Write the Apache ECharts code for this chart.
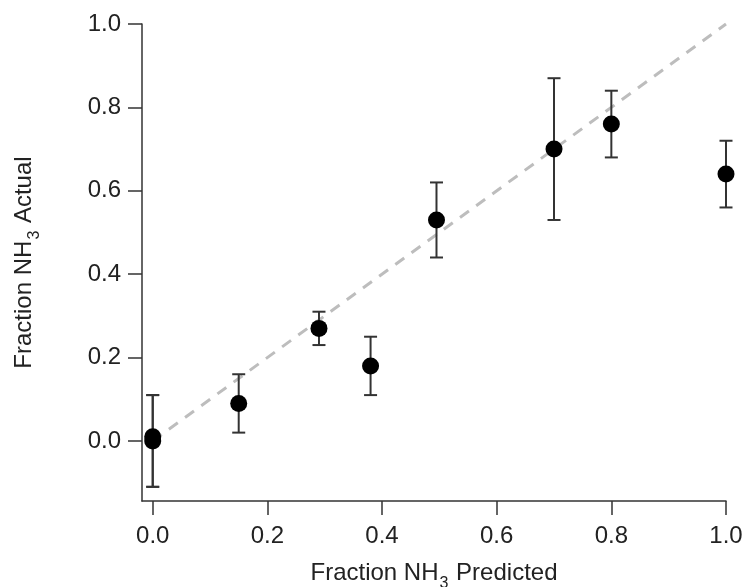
<!DOCTYPE html>
<html>
<head>
<meta charset="utf-8">
<script src="https://cdn.jsdelivr.net/npm/echarts@6/dist/echarts.min.js"></script>
<style>html,body{margin:0;padding:0;background:#fff;overflow:hidden;}#c{width:748px;height:587px;}</style>
</head>
<body>
<div id="c"></div>
<script>
var predicted = [0.0, 0.0, 0.15, 0.29, 0.38, 0.495, 0.70, 0.80, 1.0];
var actual    = [0.01, 0.0, 0.09, 0.27, 0.18, 0.53, 0.70, 0.76, 0.64];
var errLow    = [-0.11, -0.11, 0.02, 0.23, 0.11, 0.44, 0.53, 0.68, 0.56];
var errHigh   = [0.11, 0.11, 0.16, 0.31, 0.25, 0.62, 0.87, 0.84, 0.72];
var identityLine = [[0, 0], [1, 1]];
var xTicks = [0.0, 0.2, 0.4, 0.6, 0.8, 1.0];
var yTicks = [0.0, 0.2, 0.4, 0.6, 0.8, 1.0];

var points = predicted.map(function (x, i) { return [x, actual[i]]; });
var bars = predicted.map(function (x, i) { return [x, errLow[i], errHigh[i]]; });

var chart = echarts.init(document.getElementById('c'), null, {renderer: 'canvas'});
var font = '"Liberation Sans", Arial, sans-serif';
var axisColor = '#333';
var txt = '#222';
var nameRich = {
  n: {fontSize: 24, fontFamily: font, color: txt, verticalAlign: 'bottom', lineHeight: 28},
  s: {fontSize: 16, fontFamily: font, color: txt, verticalAlign: 'bottom', lineHeight: 28, padding: [0, 1, -7, 1]}
};
function fmt(v) { return v.toFixed(1); }

chart.setOption({
  animation: false,
  backgroundColor: '#fff',
  grid: {left: 142, right: 22, top: 24, bottom: 86, containLabel: false, outerBoundsMode: 'none'},
  xAxis: {
    type: 'value', min: -0.0187, max: 1.0,
    axisLine: {show: true, onZero: false, lineStyle: {color: axisColor, width: 1.5}},
    axisTick: {show: true, inside: false, length: 14, lineStyle: {color: axisColor, width: 1.5},
      customValues: xTicks},
    axisLabel: {fontSize: 24, fontFamily: font, color: txt, margin: 23, formatter: fmt,
      customValues: xTicks},
    splitLine: {show: false},
    name: '{n|Fraction NH}{s|3}{n| Predicted}',
    nameLocation: 'middle', nameGap: 56,
    nameTextStyle: {rich: nameRich}
  },
  yAxis: {
    type: 'value', min: -0.144, max: 1.0,
    axisLine: {show: true, onZero: false, lineStyle: {color: axisColor, width: 1.5}},
    axisTick: {show: true, inside: false, length: 14, lineStyle: {color: axisColor, width: 1.5},
      customValues: yTicks},
    axisLabel: {fontSize: 24, fontFamily: font, color: txt, margin: 21, formatter: fmt,
      customValues: yTicks},
    splitLine: {show: false},
    name: '{n|Fraction NH}{s|3}{n| Actual}',
    nameLocation: 'middle', nameGap: 106, nameRotate: 90,
    nameTextStyle: {rich: nameRich}
  },
  series: [
    {
      type: 'line', data: identityLine, symbol: 'none', silent: true, z: 1,
      lineStyle: {color: '#bdbdbd', width: 3, type: [11, 9]}
    },
    {
      type: 'custom', data: bars, z: 2, silent: true,
      renderItem: function (params, api) {
        var x = api.value(0);
        var lo = api.coord([x, api.value(1)]);
        var hi = api.coord([x, api.value(2)]);
        var hw = 6.5;
        var st = {stroke: '#333', lineWidth: 2};
        return {type: 'group', children: [
          {type: 'line', shape: {x1: lo[0], y1: lo[1], x2: hi[0], y2: hi[1]}, style: st},
          {type: 'line', shape: {x1: lo[0] - hw, y1: lo[1], x2: lo[0] + hw, y2: lo[1]}, style: st},
          {type: 'line', shape: {x1: hi[0] - hw, y1: hi[1], x2: hi[0] + hw, y2: hi[1]}, style: st}
        ]};
      }
    },
    {
      type: 'scatter', data: points, symbol: 'circle', symbolSize: 17, z: 3,
      itemStyle: {color: '#000', opacity: 1}
    }
  ]
});
</script>
</body>
</html>
